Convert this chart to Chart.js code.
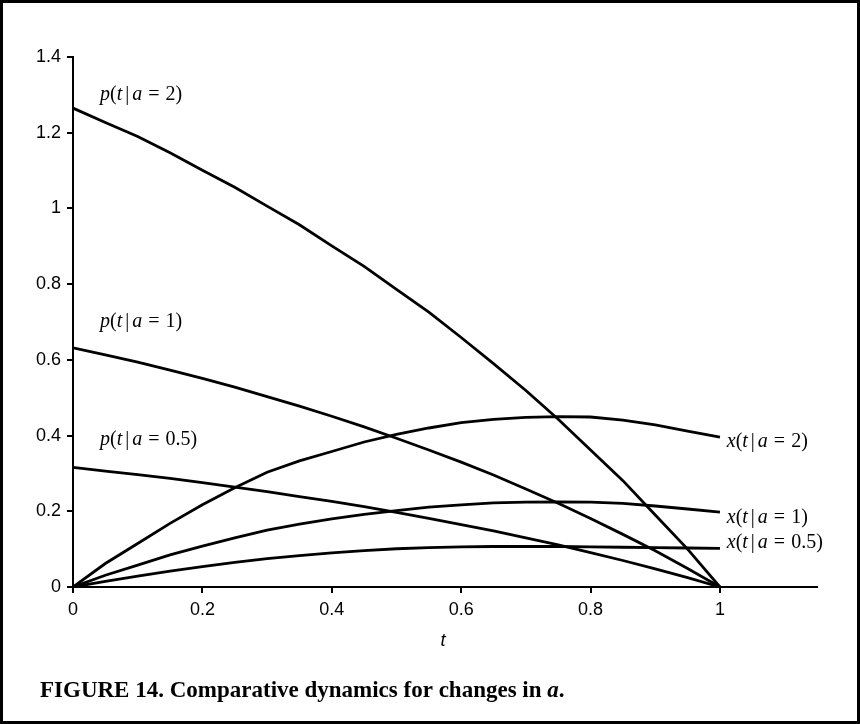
<!DOCTYPE html>
<html>
<head>
<meta charset="utf-8">
<script src="https://cdn.jsdelivr.net/npm/chart.js@4"></script>
<style>
html,body{margin:0;padding:0;background:#fff;}
#wrap{width:860px;height:724px;position:relative;}
</style>
</head>
<body>
<div id="wrap"><canvas id="c"></canvas></div>
<script>
// ---- data ----
const tValues = [0,0.05,0.1,0.15,0.2,0.25,0.3,0.35,0.4,0.45,0.5,0.55,0.6,0.65,0.7,0.75,0.8,0.85,0.9,0.95,1];
const pA2  = [1.265,1.227,1.19,1.147,1.101,1.056,1.006,0.957,0.901,0.847,0.786,0.726,0.659,0.59,0.519,0.443,0.362,0.281,0.19,0.1,0];
const pA1  = [0.632,0.613,0.594,0.573,0.551,0.528,0.503,0.478,0.451,0.423,0.393,0.362,0.33,0.296,0.259,0.221,0.181,0.139,0.096,0.049,0];
const pA05 = [0.316,0.306,0.297,0.287,0.276,0.264,0.252,0.239,0.226,0.212,0.197,0.181,0.165,0.148,0.13,0.111,0.091,0.07,0.048,0.025,0];
const xA2  = [0,0.062,0.115,0.168,0.217,0.262,0.303,0.333,0.358,0.383,0.403,0.42,0.434,0.443,0.448,0.45,0.449,0.441,0.428,0.412,0.396];
const xA1  = [0,0.031,0.058,0.085,0.108,0.13,0.15,0.166,0.18,0.192,0.202,0.211,0.217,0.222,0.224,0.225,0.224,0.221,0.214,0.206,0.198];
const xA05 = [0,0.015,0.029,0.042,0.054,0.065,0.075,0.083,0.09,0.096,0.101,0.104,0.106,0.107,0.107,0.107,0.106,0.105,0.104,0.103,0.102];
const xTickValues = [0,0.2,0.4,0.6,0.8,1];
const yTickValues = [0,0.2,0.4,0.6,0.8,1,1.2,1.4];
const seriesNames = ['p(t|a = 2)','p(t|a = 1)','p(t|a = 0.5)','x(t|a = 2)','x(t|a = 1)','x(t|a = 0.5)'];
const seriesValues = [pA2,pA1,pA05,xA2,xA1,xA05];
const axisTitle = 't';
const caption = 'FIGURE 14. Comparative dynamics for changes in ';

// label anchors (data coordinates)
const labelAnchors = [
  {letter:'p', value:'2',   tx:0.0417, ty:1.286},
  {letter:'p', value:'1',   tx:0.0417, ty:0.687},
  {letter:'p', value:'0.5', tx:0.0417, ty:0.375},
  {letter:'x', value:'2',   tx:1.0105, ty:0.370},
  {letter:'x', value:'1',   tx:1.0105, ty:0.169},
  {letter:'x', value:'0.5', tx:1.0105, ty:0.103}
];

const datasets = seriesValues.map((vals,i)=>({
  label: seriesNames[i],
  data: tValues.map((t,j)=>({x:t,y:vals[j]})),
  borderColor:'#000',
  backgroundColor:'#000',
  borderWidth:2.8,
  pointRadius:0,
  tension:0,
  fill:false
}));

const SERIF = '"Liberation Serif","Times New Roman",serif';
const SANS = '"Liberation Sans",Arial,sans-serif';

function drawMath(ctx, x, y, a) {
  const size = 20;
  const segs = [
    {s:a.letter, it:true}, {s:'(', it:false}, {s:'t', it:true}, {gap:3},
    {s:'|', it:false}, {gap:3}, {s:'a', it:true}, {gap:6}, {s:'=', it:false}, {gap:6},
    {s:a.value, it:false}, {s:')', it:false}
  ];
  ctx.textAlign='left'; ctx.textBaseline='alphabetic'; ctx.fillStyle='#000';
  let cx = x;
  for (const g of segs) {
    if (g.gap) { cx += g.gap; continue; }
    ctx.font = (g.it?'italic ':'') + size + 'px ' + SERIF;
    ctx.fillText(g.s, cx, y);
    cx += ctx.measureText(g.s).width;
  }
}

const decor = {
  id:'decor',
  afterDraw(chart){
    const ctx = chart.ctx;
    const xs = chart.scales.x, ys = chart.scales.y;
    ctx.save();
    ctx.strokeStyle='#000'; ctx.lineWidth=3;
    ctx.strokeRect(1.5,1.5,chart.width-3,chart.height-3);
    for (const a of labelAnchors) {
      drawMath(ctx, xs.getPixelForValue(a.tx), ys.getPixelForValue(a.ty), a);
    }
    ctx.font = 'italic 18px ' + SANS;
    ctx.textAlign='center'; ctx.textBaseline='middle'; ctx.fillStyle='#000';
    ctx.fillText(axisTitle, (xs.left+xs.right)/2 - 2, 641);
    ctx.textAlign='left'; ctx.textBaseline='alphabetic';
    ctx.font = 'bold 23px ' + SERIF;
    let cx = 40;
    ctx.fillText(caption, cx, 697);
    cx += ctx.measureText(caption).width;
    ctx.font = 'italic bold 23px ' + SERIF;
    ctx.fillText('a', cx, 697);
    cx += ctx.measureText('a').width;
    ctx.font = 'bold 23px ' + SERIF;
    ctx.fillText('.', cx, 697);
    ctx.restore();
  }
};

new Chart(document.getElementById('c'), {
  type:'line',
  data:{datasets},
  options:{
    responsive:true,
    maintainAspectRatio:false,
    animation:false,
    events:[],
    layout:{padding:{left:0,top:57,right:43,bottom:0}},
    plugins:{legend:{display:false},tooltip:{enabled:false},title:{display:false}},
    scales:{
      x:{
        type:'linear', min:0, max:1.15,
        afterFit(s){ s.height = 137; },
        afterBuildTicks(s){ s.ticks = xTickValues.map(v=>({value:v})); },
        ticks:{color:'#000', font:{family:SANS,size:18}, padding:6, maxRotation:0, includeBounds:false,
          callback:(v)=>String(v)},
        grid:{display:true, drawOnChartArea:false, drawTicks:true, tickLength:6, color:'#000', lineWidth:2},
        border:{display:true, color:'#000', width:2}
      },
      y:{
        type:'linear', min:0, max:1.4,
        afterFit(s){ s.width = 73; },
        afterBuildTicks(s){ s.ticks = yTickValues.map(v=>({value:v})); },
        ticks:{color:'#000', font:{family:SANS,size:18}, padding:6, callback:(v)=>String(v)},
        grid:{display:true, drawOnChartArea:false, drawTicks:true, tickLength:6, color:'#000', lineWidth:2},
        border:{display:true, color:'#000', width:2}
      }
    }
  },
  plugins:[decor]
});
</script>
</body>
</html>
